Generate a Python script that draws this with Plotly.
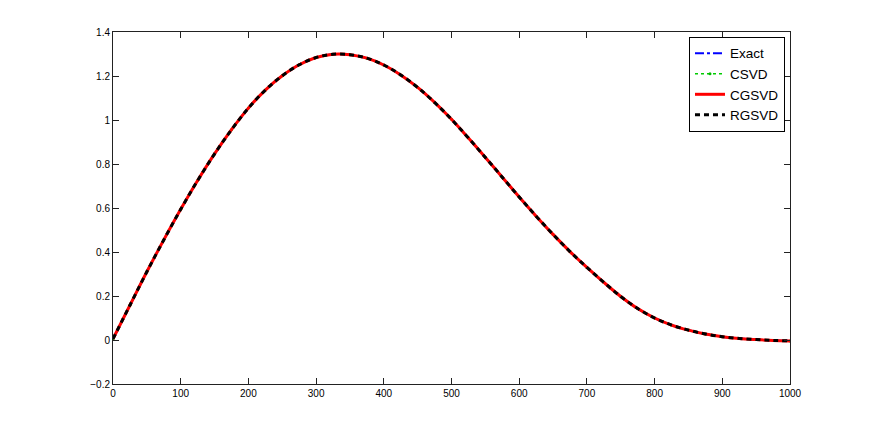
import plotly.graph_objects as go

# sample index and solution values
x_vals = [0, 25, 50, 75, 100, 125, 150, 175, 200, 225, 250, 275, 300, 325, 350,
          375, 400, 425, 450, 475, 500, 525, 550, 575, 600, 625, 650, 675, 700,
          725, 750, 775, 800, 825, 850, 875, 900, 925, 950, 975, 1000]
exact = [0.005, 0.158, 0.31, 0.455, 0.594, 0.725, 0.846, 0.956, 1.054, 1.136, 1.201,
         1.251, 1.284, 1.299, 1.297, 1.281, 1.25, 1.205, 1.148, 1.08, 1.003,
         0.918, 0.83, 0.74, 0.65, 0.563, 0.48, 0.402, 0.33, 0.262, 0.198,
         0.143, 0.10, 0.068, 0.045, 0.027, 0.015, 0.007, 0.002, -0.002, -0.004]
# the three reconstructions sit on top of the exact curve at this scale
csvd = list(exact)
cgsvd = list(exact)
rgsvd = list(exact)

x_ticks = [0, 100, 200, 300, 400, 500, 600, 700, 800, 900, 1000]
y_ticks = [-0.2, 0, 0.2, 0.4, 0.6, 0.8, 1, 1.2, 1.4]

fig = go.Figure()
fig.add_trace(go.Scatter(x=x_vals, y=exact, name="Exact", mode="lines",
                         line=dict(color="#0000ff", width=2, dash="dashdot", shape="spline")))
fig.add_trace(go.Scatter(x=x_vals, y=csvd, name="CSVD", mode="lines+markers",
                         marker=dict(color="#00bb00", size=3),
                         line=dict(color="#00cc00", width=1.5, dash="dot", shape="spline")))
fig.add_trace(go.Scatter(x=x_vals, y=cgsvd, name="CGSVD", mode="lines",
                         line=dict(color="#ff0000", width=3, shape="spline")))
fig.add_trace(go.Scatter(x=x_vals, y=rgsvd, name="RGSVD", mode="lines",
                         line=dict(color="#000000", width=3, dash="5px,4px", shape="spline")))

axis_style = dict(showline=True, linecolor="#222222", linewidth=1, mirror="ticks",
                  ticks="inside", ticklen=6, tickcolor="#222222", showgrid=False,
                  zeroline=False, tickfont=dict(family="Liberation Sans", size=10, color="#000000"))
fig.update_xaxes(range=[0, 1000], tickvals=x_ticks, **axis_style)
fig.update_yaxes(range=[-0.2, 1.4], tickvals=y_ticks, ticklabelstandoff=0, **axis_style)

# the page body keeps its default 8px margin, so the margins are shifted by that much
fig.update_layout(
    width=872, height=433,
    paper_bgcolor="white", plot_bgcolor="white",
    margin=dict(l=105, r=90, t=24, b=57),
    font=dict(family="Liberation Sans", color="#000000"),
    legend=dict(x=0.9926, y=0.986, xanchor="right", yanchor="top",
                bgcolor="white", bordercolor="#000000", borderwidth=1,
                font=dict(size=13.5), tracegroupgap=0, itemwidth=30),
)

fig.write_html("out.html")
